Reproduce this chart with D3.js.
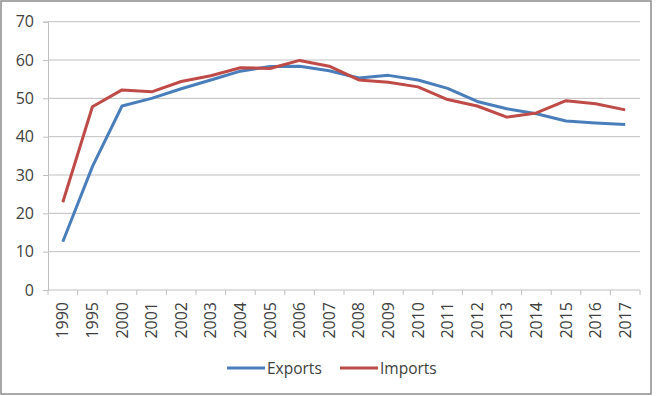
<!DOCTYPE html>
<html>
<head>
<meta charset="utf-8">
<script src="https://cdn.jsdelivr.net/npm/d3@7"></script>
<style>
  body { margin: 0; background: #fff; }
  text { font-family: "Open Sans", "Liberation Sans", sans-serif; fill: #404040; }
</style>
</head>
<body>
<div id="chart"></div>
<script>
var years = ['1990','1995','2000','2001','2002','2003','2004','2005','2006','2007',
  '2008','2009','2010','2011','2012','2013','2014','2015','2016','2017'];
var exportsVals = [12.6, 32.2, 48.0, 50.0, 52.5, 54.8, 57.1, 58.3, 58.4, 57.2,
  55.3, 56.0, 54.8, 52.6, 49.2, 47.3, 46.0, 44.1, 43.6, 43.2];
var importsVals = [22.9, 47.8, 52.2, 51.7, 54.4, 55.9, 58.0, 57.8, 59.9, 58.4,
  54.8, 54.2, 53.0, 49.7, 48.0, 45.1, 46.2, 49.4, 48.6, 47.0];
var yTicks = [0, 10, 20, 30, 40, 50, 60, 70];

var width = 660, height = 396;
var margin = { top: 21.7, left: 48, right: 20, bottom: 106 };

var svg = d3.select("#chart").append("svg")
  .attr("width", width)
  .attr("height", height);

// outer frame
svg.append("rect")
  .attr("x", 1).attr("y", 1)
  .attr("width", 650).attr("height", 393)
  .attr("fill", "#fff")
  .attr("stroke", "#8c8c8c")
  .attr("stroke-width", 1.5);

var x = d3.scaleBand().domain(years).range([margin.left, width - margin.right]);
var y = d3.scaleLinear().domain([0, 70]).range([290, margin.top]);

// gridlines
svg.selectAll(".grid")
  .data(yTicks.slice(1))
  .enter().append("line")
  .attr("class", "grid")
  .attr("x1", margin.left).attr("x2", width - margin.right)
  .attr("y1", function(d) { return y(d); })
  .attr("y2", function(d) { return y(d); })
  .attr("stroke", "#bfbfbf")
  .attr("stroke-width", 1);

// y axis
var yAxis = svg.append("g")
  .attr("transform", "translate(" + margin.left + ",0)")
  .call(d3.axisLeft(y).tickValues(yTicks).tickSize(5).tickPadding(9));
yAxis.selectAll("text").style("font-size", "16px");
yAxis.selectAll("line, path").attr("stroke", "#bfbfbf");

// x axis with ticks between categories
var xAxis = svg.append("g")
  .attr("transform", "translate(0," + y(0) + ")");
xAxis.append("line")
  .attr("x1", margin.left).attr("x2", width - margin.right)
  .attr("stroke", "#bfbfbf");
xAxis.selectAll(".tick-mark")
  .data(years.concat(["end"]))
  .enter().append("line")
  .attr("class", "tick-mark")
  .attr("x1", function(d, i) { return margin.left + i * x.bandwidth(); })
  .attr("x2", function(d, i) { return margin.left + i * x.bandwidth(); })
  .attr("y1", 0).attr("y2", 5)
  .attr("stroke", "#bfbfbf");
xAxis.selectAll(".xlab")
  .data(years)
  .enter().append("text")
  .attr("class", "xlab")
  .attr("transform", function(d) {
    return "translate(" + (x(d) + x.bandwidth() / 2 + 5.5) + ",12) rotate(-90)";
  })
  .attr("text-anchor", "end")
  .style("font-size", "16px")
  .text(function(d) { return d; });

var line = d3.line()
  .x(function(d, i) { return x(years[i]) + x.bandwidth() / 2; })
  .y(function(d) { return y(d); });

svg.append("path")
  .datum(exportsVals)
  .attr("d", line)
  .attr("fill", "none")
  .attr("stroke", "#4a7ebb")
  .attr("stroke-width", 3)
  .attr("stroke-linejoin", "round");

svg.append("path")
  .datum(importsVals)
  .attr("d", line)
  .attr("fill", "none")
  .attr("stroke", "#be4b48")
  .attr("stroke-width", 3)
  .attr("stroke-linejoin", "round");

// legend
var legend = [
  { name: "Exports", color: "#4a7ebb", x: 227 },
  { name: "Imports", color: "#be4b48", x: 340 }
];
var lg = svg.selectAll(".legend")
  .data(legend)
  .enter().append("g")
  .attr("class", "legend")
  .attr("transform", function(d) { return "translate(" + d.x + ",368)"; });
lg.append("line")
  .attr("x1", 0).attr("x2", 38)
  .attr("stroke", function(d) { return d.color; })
  .attr("stroke-width", 3);
lg.append("text")
  .attr("x", 40).attr("y", 5.5)
  .style("font-size", "15.5px")
  .text(function(d) { return d.name; });
</script>
</body>
</html>
